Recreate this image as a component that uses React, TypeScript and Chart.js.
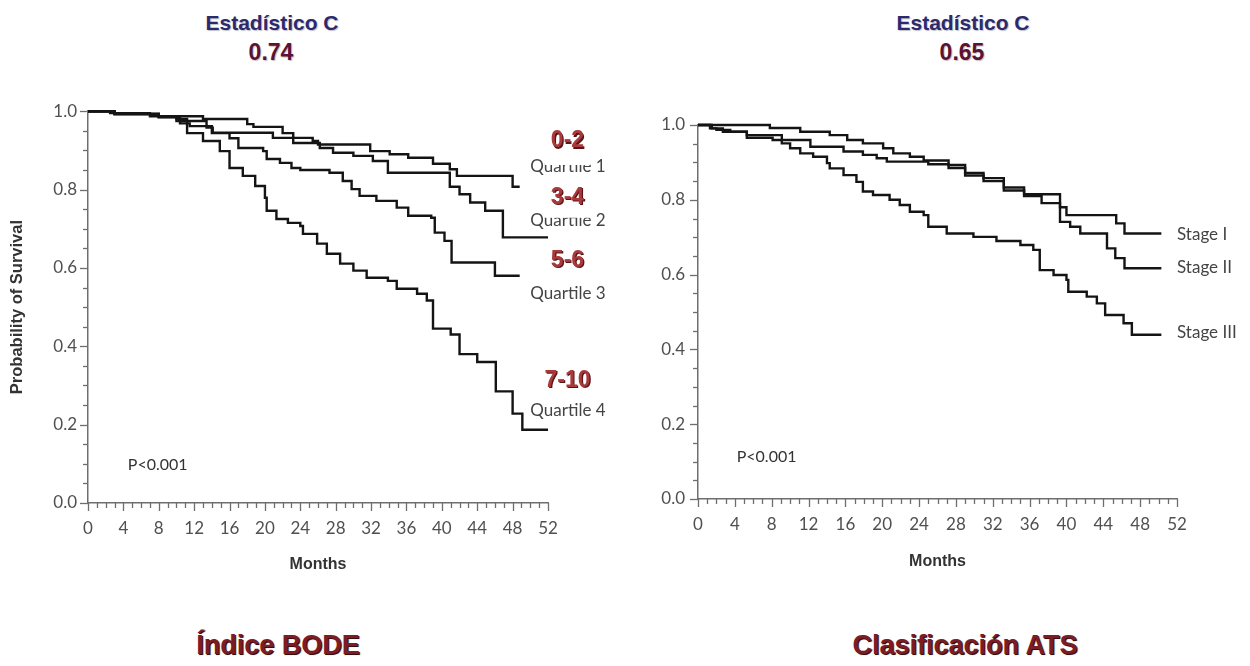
import React, { useEffect, useRef } from "react";
import { Chart, registerables } from "chart.js";

Chart.register(...registerables);

// ---------- Data: Índice BODE (left) ----------
const monthTicks = [0, 4, 8, 12, 16, 20, 24, 28, 32, 36, 40, 44, 48, 52];

const q1Times = [0, 2.5, 7, 13, 18, 18.7, 22, 23.2, 25.4, 26, 31.9, 34.1, 36.2, 39, 40.9, 41.7, 48];
const q1Surv = [1, 0.995, 0.987, 0.98, 0.967, 0.96, 0.944, 0.932, 0.924, 0.915, 0.898, 0.89, 0.881, 0.866, 0.852, 0.835, 0.807];
const q1End = 48.8;

const q2Times = [0, 3, 8, 10, 13.4, 14.1, 20.9, 23.2, 26.2, 27.7, 30, 32.2, 33.9, 40.9, 42, 43.2, 44.9, 46.9];
const q2Surv = [1, 0.993, 0.985, 0.975, 0.958, 0.945, 0.932, 0.919, 0.906, 0.894, 0.886, 0.873, 0.843, 0.807, 0.788, 0.767, 0.746, 0.678];
const q2End = 52;

const q3Times = [0, 3, 8, 10.4, 11.5, 14, 16, 17, 19.8, 20.2, 21.7, 23, 24, 27.3, 28.8, 29.8, 30.7, 32.6, 34.9, 36.2, 38.8, 39.2, 40.3, 41.1, 46];
const q3Surv = [1, 0.993, 0.985, 0.969, 0.962, 0.944, 0.931, 0.906, 0.898, 0.878, 0.868, 0.855, 0.85, 0.843, 0.822, 0.801, 0.784, 0.771, 0.754, 0.733, 0.728, 0.69, 0.669, 0.614, 0.58];
const q3End = 48.8;

const q4Times = [0, 3, 8, 10, 11.2, 13, 14.9, 16, 17.5, 18.9, 20, 20.2, 21.3, 22.6, 24, 24.3, 25.9, 27, 28.5, 30, 31.5, 33.9, 34.9, 37.2, 38.3, 39, 41, 42, 44, 46.1, 48, 49.1];
const q4Surv = [1, 0.993, 0.985, 0.98, 0.944, 0.924, 0.898, 0.855, 0.835, 0.809, 0.779, 0.746, 0.725, 0.715, 0.707, 0.687, 0.662, 0.636, 0.611, 0.593, 0.575, 0.567, 0.547, 0.534, 0.517, 0.445, 0.43, 0.38, 0.36, 0.285, 0.228, 0.187];
const q4End = 52;

// ---------- Data: Clasificación ATS (right) ----------
const s1Times = [0, 7.8, 11.1, 14.3, 16.2, 17.9, 20.1, 21.2, 23, 24.5, 27.2, 29, 31, 33.2, 35.4, 39.3, 40, 45.4, 46.3];
const s1Surv = [1, 0.992, 0.982, 0.973, 0.96, 0.951, 0.938, 0.924, 0.915, 0.905, 0.893, 0.872, 0.858, 0.833, 0.815, 0.78, 0.759, 0.737, 0.71];
const s1End = 50.3;

const s2Times = [0, 1.3, 2, 3.5, 5.3, 9.1, 12.2, 15.8, 17.9, 19.4, 20.5, 25, 27.2, 29, 31, 33.2, 35.4, 37.3, 39.3, 40.4, 41.5, 44.4, 45.3, 46.3];
const s2Surv = [1, 0.991, 0.987, 0.982, 0.973, 0.96, 0.942, 0.929, 0.92, 0.911, 0.902, 0.895, 0.885, 0.865, 0.85, 0.825, 0.81, 0.791, 0.741, 0.728, 0.71, 0.67, 0.644, 0.617];
const s2End = 50.3;

const s3Times = [0, 1.5, 2.7, 5.3, 8.1, 9.1, 10, 11.1, 12.5, 14, 14.3, 15.8, 17.2, 17.9, 19, 20.8, 21.9, 23, 24.5, 25, 27, 29.9, 32.4, 35, 36.4, 37.1, 38.6, 40, 40.2, 42.2, 43.3, 44.2, 46.2, 47.1];
const s3Surv = [1, 0.991, 0.982, 0.966, 0.96, 0.951, 0.938, 0.924, 0.915, 0.898, 0.884, 0.866, 0.848, 0.822, 0.813, 0.8, 0.786, 0.768, 0.759, 0.728, 0.71, 0.701, 0.69, 0.679, 0.666, 0.612, 0.599, 0.586, 0.554, 0.541, 0.523, 0.492, 0.47, 0.439];
const s3End = 50.3;

// ---------- Labels ----------
const bodeQuartileLabels = ["Quartile 1", "Quartile 2", "Quartile 3", "Quartile 4"];
const bodeQuartileY = [0.86, 0.72, 0.534, 0.237];
const bodeRangeLabels = ["0-2", "3-4", "5-6", "7-10"];
const bodeRangeY = [0.924, 0.779, 0.618, 0.313];
const bodeRangeBoxBelow = [24, 20, 18, 18];
const atsLabels = ["Stage I", "Stage II", "Stage III"];
const atsLabelY = [0.706, 0.62, 0.444];

const AXIS = "#6e6e6e";
const TICK_TEXT = "#505050";
const LINE = "#141414";
const SANS = "Lato, 'Open Sans', sans-serif";
const ARIAL = "'Liberation Sans', Arial, sans-serif";

function toPoints(times: number[], surv: number[], end: number) {
  const pts = times.map((t, i) => ({ x: t, y: surv[i] }));
  pts.push({ x: end, y: surv[surv.length - 1] });
  return pts;
}

function ds(times: number[], surv: number[], end: number) {
  return {
    data: toPoints(times, surv, end),
    stepped: true,
    borderColor: LINE,
    borderWidth: 2.4,
    pointRadius: 0,
    fill: false,
    clip: false as any,
  };
}

const decorPlugin = {
  id: "kmDecor",
  afterDraw(chart: any, _args: any, opts: any) {
    const ctx = chart.ctx as CanvasRenderingContext2D;
    const xs = chart.scales.x;
    const ys = chart.scales.y;
    const area = chart.chartArea;
    ctx.save();
    ctx.strokeStyle = AXIS;
    ctx.lineWidth = 1.3;
    for (let m = 0; m <= 52; m++) {
      const px = Math.round(xs.getPixelForValue(m)) + 0.5;
      const len = m % 4 === 0 ? 8 : 5;
      ctx.beginPath();
      ctx.moveTo(px, area.bottom);
      ctx.lineTo(px, area.bottom + len);
      ctx.stroke();
    }
    for (let k = 0; k <= 20; k++) {
      const py = Math.round(ys.getPixelForValue(k * 0.05)) + 0.5;
      const len = k % 4 === 0 ? 8 : 5;
      ctx.beginPath();
      ctx.moveTo(area.left, py);
      ctx.lineTo(area.left - len, py);
      ctx.stroke();
    }
    ctx.textBaseline = "middle";
    ctx.textAlign = "left";
    (opts.labels || []).forEach((l: any) => {
      ctx.font = l.font;
      ctx.fillStyle = l.color;
      ctx.fillText(l.text, xs.getPixelForValue(l.x), ys.getPixelForValue(l.y));
    });
    (opts.redLabels || []).forEach((l: any) => {
      ctx.font = l.font;
      ctx.textAlign = "center";
      const px = xs.getPixelForValue(l.x);
      const py = ys.getPixelForValue(l.y);
      const w = ctx.measureText(l.text).width;
      ctx.fillStyle = "#ffffff";
      ctx.fillRect(px - w / 2 - 6, py - 13, w + 12, 13 + l.below);
      ctx.fillStyle = "#5a1418";
      ctx.fillText(l.text, px + 1.2, py + 1.2);
      ctx.fillStyle = "#a83a3c";
      ctx.fillText(l.text, px, py);
    });
    ctx.restore();
  },
};

function makeConfig(datasets: any[], geom: any, decor: any, yTitle: string | null) {
  return {
    type: "line" as const,
    data: { datasets },
    plugins: [decorPlugin],
    options: {
      animation: false,
      responsive: false,
      maintainAspectRatio: false,
      layout: { padding: { left: 0, top: geom.padTop, right: geom.padRight, bottom: 0 } },
      plugins: {
        legend: { display: false },
        tooltip: { enabled: false },
        kmDecor: decor,
      },
      scales: {
        x: {
          type: "linear",
          min: 0,
          max: 52,
          grid: { display: false, drawTicks: false },
          border: { display: true, color: AXIS, width: 1.5 },
          afterBuildTicks: (s: any) => {
            s.ticks = monthTicks.map((v) => ({ value: v }));
          },
          ticks: {
            autoSkip: false,
            maxRotation: 0,
            padding: 15,
            color: TICK_TEXT,
            font: { family: SANS, size: 17 },
            callback: (v: any) => String(v),
          },
          title: {
            display: true,
            text: "Months",
            color: "#333",
            font: { family: ARIAL, size: 16, weight: "bold" },
            padding: { top: 0, bottom: geom.monthsPad },
          },
          afterFit: (s: any) => {
            s.height = geom.xHeight;
          },
        },
        y: {
          min: 0,
          max: 1,
          grid: { display: false, drawTicks: false },
          border: { display: true, color: AXIS, width: 1.5 },
          ticks: {
            stepSize: 0.2,
            padding: geom.yTickPad,
            color: TICK_TEXT,
            font: { family: SANS, size: 17 },
            callback: (v: any) => Number(v).toFixed(1),
          },
          title: {
            display: !!yTitle,
            text: yTitle || "",
            color: "#333",
            font: { family: ARIAL, size: 16.5, weight: "bold" },
            padding: { top: 8, bottom: 0 },
          },
          afterFit: (s: any) => {
            s.width = geom.yWidth;
          },
        },
      },
    },
  };
}

function KMChart(props: { config: any; style: React.CSSProperties; width: number; height: number }) {
  const ref = useRef<HTMLCanvasElement | null>(null);
  useEffect(() => {
    if (!ref.current) return;
    const chart = new Chart(ref.current, props.config);
    return () => chart.destroy();
  }, []);
  return <canvas ref={ref} width={props.width} height={props.height} style={{ position: "absolute", ...props.style }} />;
}

const labelFont = `17px ${SANS}`;
const redFont = `bold 23px ${ARIAL}`;

const leftDecor = {
  labels: [
    ...bodeQuartileLabels.map((t, i) => ({ text: t, x: 50, y: bodeQuartileY[i], font: labelFont, color: "#444" })),
    { text: "P<0.001", x: 4.5, y: 0.097, font: `16px ${SANS}`, color: "#333" },
  ],
  redLabels: bodeRangeLabels.map((t, i) => ({ text: t, x: 54.2, y: bodeRangeY[i], font: redFont, below: bodeRangeBoxBelow[i] })),
};

const rightDecor = {
  labels: [
    ...atsLabels.map((t, i) => ({ text: t, x: 52, y: atsLabelY[i], font: labelFont, color: "#444" })),
    { text: "P<0.001", x: 4.2, y: 0.112, font: `16px ${SANS}`, color: "#333" },
  ],
};

const leftConfig = makeConfig(
  [ds(q1Times, q1Surv, q1End), ds(q2Times, q2Surv, q2End), ds(q3Times, q3Surv, q3End), ds(q4Times, q4Surv, q4End)],
  { padTop: 20, padRight: 92, xHeight: 77, yWidth: 88, monthsPad: 6, yTickPad: 11 },
  leftDecor,
  "Probability of Survival"
);

const rightConfig = makeConfig(
  [ds(s1Times, s1Surv, s1End), ds(s2Times, s2Surv, s2End), ds(s3Times, s3Surv, s3End)],
  { padTop: 25, padRight: 73, xHeight: 91, yWidth: 73, monthsPad: 19, yTickPad: 13 },
  rightDecor,
  null
);

const topTitle: React.CSSProperties = {
  position: "absolute",
  transform: "translate(-50%, -50%)",
  fontFamily: ARIAL,
  fontWeight: "bold",
  fontSize: 21,
  whiteSpace: "nowrap",
  lineHeight: 1,
};

const bottomTitle: React.CSSProperties = {
  position: "absolute",
  transform: "translate(-50%, -50%)",
  fontFamily: ARIAL,
  fontWeight: "bold",
  fontSize: 27,
  color: "#7c1c24",
  textShadow: "1px 1px 0 #3a0a0e, 1.5px 1.5px 1px rgba(0,0,0,0.35)",
  whiteSpace: "nowrap",
  lineHeight: 1,
};

export default function App() {
  return (
    <div style={{ position: "fixed", left: 0, top: 0, width: 1250, height: 666, background: "#fff", overflow: "hidden" }}>
      <div style={{ ...topTitle, left: 272, top: 22, color: "#2c2a6c", textShadow: "1px 1px 1px rgba(0,0,40,0.25)" }}>Estadístico C</div>
      <div style={{ ...topTitle, left: 271, top: 52, fontSize: 23, color: "#5c1232", textShadow: "1px 1px 1px rgba(40,0,0,0.25)" }}>0.74</div>
      <div style={{ ...topTitle, left: 963, top: 22, color: "#2c2a6c", textShadow: "1px 1px 1px rgba(0,0,40,0.25)" }}>Estadístico C</div>
      <div style={{ ...topTitle, left: 962, top: 52, fontSize: 23, color: "#5c1232", textShadow: "1px 1px 1px rgba(40,0,0,0.25)" }}>0.65</div>

      <KMChart config={leftConfig} width={640} height={490} style={{ left: 0, top: 90 }} />
      <KMChart config={rightConfig} width={625} height={490} style={{ left: 625, top: 100 }} />

      <div style={{ ...bottomTitle, left: 278, top: 645 }}>Índice BODE</div>
      <div style={{ ...bottomTitle, left: 965, top: 645 }}>Clasificación ATS</div>
    </div>
  );
}
